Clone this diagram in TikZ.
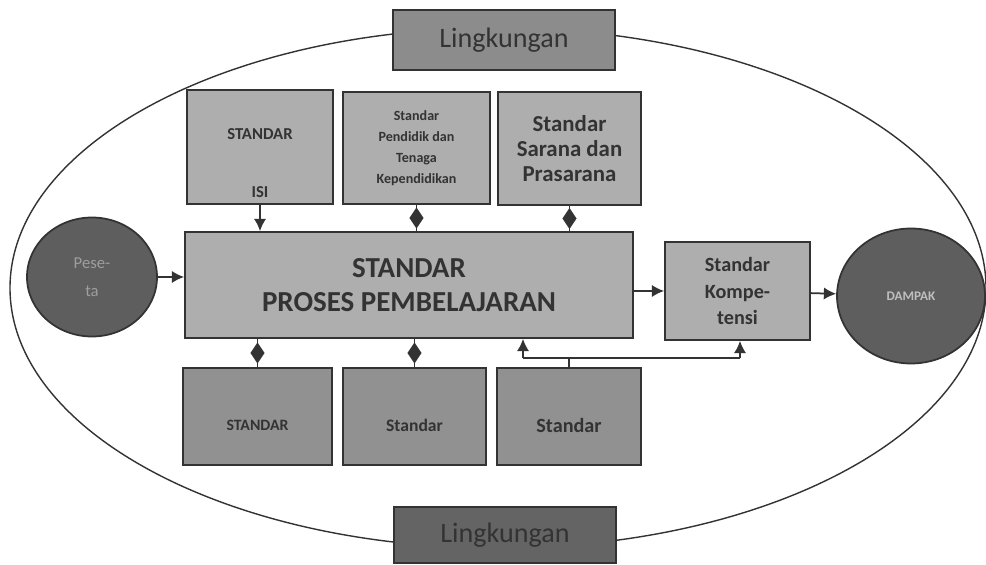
\documentclass[tikz,border=0pt]{standalone}
\usepackage{fontspec}
\setmainfont{Carlito}
\usetikzlibrary{shapes,arrows.meta,positioning,calc,decorations.markings}
\definecolor{inkgray}{HTML}{333333}
\definecolor{boxgray}{HTML}{AEAEAE}
\definecolor{lowgray}{HTML}{919191}
\definecolor{ballgray}{HTML}{5E5E5E}
\definecolor{envtop}{HTML}{8C8C8C}
\definecolor{envlow}{HTML}{646464}
\newcommand{\lowtext}[1]{\raisebox{-5pt}[\height][\depth]{#1}}

\begin{document}
\begin{tikzpicture}[
  stdbox/.style={draw=inkgray, line width=1pt, fill=boxgray, align=center,
    text=inkgray, inner sep=2pt},
  lowbox/.style={stdbox, fill=lowgray},
  ball/.style={draw=inkgray, line width=1pt, ellipse, fill=ballgray, align=center},
  envbox/.style={draw=inkgray, line width=1pt, text=inkgray,
    minimum width=4.43cm, font=\fontsize{16}{18}\selectfont},
  arr/.style={draw=inkgray, line width=1pt, -{Latex[length=7pt,width=7pt]}},
  link/.style={draw=inkgray, line width=1pt},
  dia/.style={link, postaction={decorate}, decoration={markings,
    mark=at position 0.5 with {\arrow[xshift=6pt]{Diamond[length=12pt,width=8pt]}}}}
]
\useasboundingbox (0,0) rectangle (19.72,-11.3);

% ================= ENVIRONMENT RING =================
\draw[line width=0.8pt, draw=inkgray] (9.96,-5.76) ellipse [x radius=9.76, y radius=5.20];

\node[envbox, fill=envtop, minimum height=1.2cm] (envtop) at (10.08,-0.80) {Lingkungan};
\node[envbox, fill=envlow, minimum height=1.12cm] (envlow) at (10.10,-10.70) {Lingkungan};

% ================= TOP ROW =================
\node[stdbox, minimum width=2.92cm, minimum height=2.28cm,
  font=\fontsize{9.5}{11}\selectfont\bfseries] (isi) at (5.20,-2.94)
{\rule{0pt}{24pt}STANDAR\\[22pt]ISI};

\node[stdbox, minimum width=2.94cm, minimum height=2.24cm,
  font=\fontsize{8}{12}\selectfont\bfseries] (pendidik) at (8.33,-2.96)
{Standar\\Pendidik dan\\Tenaga\\Kependidikan};

\node[stdbox, minimum width=2.86cm, minimum height=2.26cm,
  font=\fontsize{13}{14}\selectfont\bfseries] (sarana) at (11.39,-2.97)
{Standar\\Sarana dan\\Prasarana};

% ================= MIDDLE ROW =================
\node[ball, minimum width=2.6cm, minimum height=2.38cm,
  text=black!38, font=\fontsize{9.5}{16}\selectfont] (peserta) at (1.84,-5.54)
{Pese-\\ta};

\node[stdbox, minimum width=8.96cm, minimum height=2.12cm,
  font=\fontsize{16.5}{19}\selectfont\bfseries] (proses) at (8.18,-5.70)
{STANDAR\\PROSES PEMBELAJARAN};

\node[stdbox, minimum width=2.9cm, minimum height=1.96cm,
  font=\fontsize{11.5}{15}\selectfont\bfseries] (kompetensi) at (14.75,-5.82)
{Standar\\Kompe-\\tensi};

\node[ball, minimum width=2.96cm, minimum height=2.7cm,
  text=black!25, font=\fontsize{7.5}{9}\selectfont\bfseries] (dampak) at (18.22,-5.92)
{DAMPAK};

% ================= BOTTOM ROW =================
\node[lowbox, minimum width=2.98cm, minimum height=1.94cm,
  font=\fontsize{9}{11}\selectfont\bfseries] (bisi) at (5.15,-8.33) {\lowtext{STANDAR}};
\node[lowbox, minimum width=2.86cm, minimum height=1.94cm,
  font=\fontsize{10}{12}\selectfont\bfseries] (bstandar) at (8.29,-8.33) {\lowtext{Standar}};
\node[lowbox, minimum width=2.88cm, minimum height=1.94cm,
  font=\fontsize{11.5}{13}\selectfont\bfseries] (bsarana) at (11.38,-8.33) {\lowtext{Standar}};

% ================= CONNECTORS =================
\draw[arr] (peserta) -- (peserta -| proses.west);
\draw[arr] (proses.east |- kompetensi) -- (kompetensi);
\draw[arr] (kompetensi) -- (dampak);

\draw[arr] (isi.south) -- (isi.south |- proses.north);
\draw[dia] (pendidik.south) -- (pendidik.south |- proses.north);
\draw[dia] (sarana.south) -- (sarana.south |- proses.north);
\draw[dia] (bisi.north) -- (bisi.north |- proses.south);
\draw[dia] (bstandar.north) -- (bstandar.north |- proses.south);

\coordinate (split) at (11.38,-7.16);
\coordinate (splitL) at (10.46,-7.16);
\coordinate (splitR) at (14.80,-7.16);
\draw[link] (bsarana.north) -- (split);
\draw[link] (splitL) -- (splitR);
\draw[arr] (splitL) -- (splitL |- proses.south);
\draw[arr] (splitR) -- (splitR |- kompetensi.south);

\end{tikzpicture}
\end{document}
